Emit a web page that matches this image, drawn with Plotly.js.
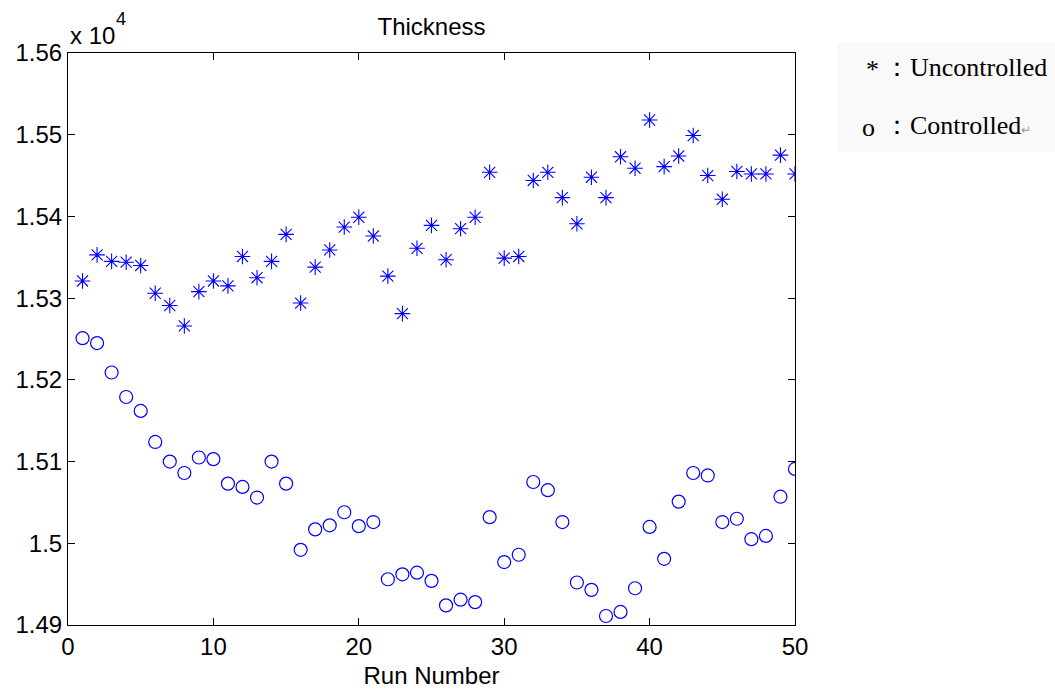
<!DOCTYPE html>
<html>
<head>
<meta charset="utf-8">
<script src="https://cdn.plot.ly/plotly-3.0.1.min.js"></script>
<style>
html,body{margin:0;padding:0;background:#fff;}
#chart{width:1055px;height:693px;}
</style>
</head>
<body>
<div id="chart"></div>
<script>
// Run numbers
const runNumber = [1,2,3,4,5,6,7,8,9,10,11,12,13,14,15,16,17,18,19,20,21,22,23,24,25,
                   26,27,28,29,30,31,32,33,34,35,36,37,38,39,40,41,42,43,44,45,46,47,48,49,50];
// Thickness, uncontrolled (*)
const uncontrolled = [15321,15353,15345,15344,15340,15306,15291,15266,15308,15321,
                      15315,15351,15325,15345,15378,15294,15338,15359,15387,15399,
                      15376,15327,15281,15361,15389,15347,15385,15399,15454,15349,
                      15351,15444,15454,15423,15391,15448,15423,15473,15459,15518,
                      15461,15474,15499,15450,15421,15455,15452,15452,15475,15452];
// Thickness, controlled (o)
const controlled = [15251,15245,15209,15179,15162,15124,15100,15086,15105,15103,
                    15073,15069,15056,15100,15073,14992,15017,15022,15038,15021,
                    15026,14956,14962,14964,14954,14924,14931,14928,15032,14977,
                    14986,15075,15065,15026,14952,14943,14911,14916,14945,15020,
                    14981,15051,15086,15083,15026,15030,15005,15009,15057,15091];
// Axis ticks
const xTicks = [0,10,20,30,40,50];
const yTickVals = [14900,15000,15100,15200,15300,15400,15500,15600];
const yTickText = ['1.49','1.5','1.51','1.52','1.53','1.54','1.55','1.56'];

const blue = '#0000FF';
const traces = [
  {x: runNumber, y: uncontrolled, mode:'markers', type:'scatter', name:'Uncontrolled',
   marker:{symbol:'asterisk-open', size:13, color:blue, line:{color:blue, width:1.1}}},
  {x: runNumber, y: controlled, mode:'markers', type:'scatter', name:'Controlled',
   marker:{symbol:'circle-open', size:13, color:blue, line:{color:blue, width:1.2}}}
];

const axFont = {family:'Liberation Sans, Arial, sans-serif', size:24, color:'#000'};
const serif = {family:'Liberation Serif, Times New Roman, serif', size:26, color:'#000'};

const layout = {
  width:1055, height:693,
  margin:{l:68, r:260, t:53, b:68, pad:0},
  paper_bgcolor:'#fff', plot_bgcolor:'#fff',
  showlegend:false,
  title:{text:'Thickness', font:{family:'Liberation Sans, Arial, sans-serif', size:24, color:'#000'},
         x:0.5, xref:'paper', xanchor:'center', y:1-27/693, yref:'container', yanchor:'middle'},
  xaxis:{range:[0,50], tickvals:xTicks, ticktext:xTicks.map(String), ticks:'inside', ticklen:7,
         tickcolor:'#000', showline:true, linecolor:'#000', linewidth:1, mirror:'ticks',
         showgrid:false, zeroline:false, tickfont:axFont,
         title:{text:'Run Number', font:axFont, standoff:8}},
  yaxis:{range:[14900,15600], tickvals:yTickVals, ticktext:yTickText, ticks:'inside', ticklen:7,
         tickcolor:'#000', showline:true, linecolor:'#000', linewidth:1, mirror:'ticks',
         showgrid:false, zeroline:false, tickfont:axFont},
  shapes:[
    {type:'rect', xref:'paper', yref:'paper', x0:(837-68)/727, x1:(1055-68)/727,
     y0:(625-152)/572, y1:(625-43)/572, fillcolor:'#f9f9f9', line:{width:0}, layer:'below'}
  ],
  annotations:[
    {text:'x 10', xref:'paper', yref:'paper', x:0, y:1, xanchor:'left', yanchor:'bottom',
     yshift:2, showarrow:false, font:axFont},
    {text:'4', xref:'paper', yref:'paper', x:(114-68)/727, y:1, xanchor:'left', yanchor:'bottom',
     yshift:22, showarrow:false, font:{family:'Liberation Sans, Arial, sans-serif', size:18, color:'#000'}},
    {text:'*', xref:'paper', yref:'paper', x:(864-68)/727, y:(625-70)/572, xanchor:'left', yanchor:'middle',
     showarrow:false, font:serif},
    {text:'：Uncontrolled', xref:'paper', yref:'paper', x:(882-68)/727, y:(625-67)/572, xanchor:'left', yanchor:'middle',
     showarrow:false, font:serif},
    {text:'o', xref:'paper', yref:'paper', x:(860-68)/727, y:(625-127)/572, xanchor:'left', yanchor:'middle',
     showarrow:false, font:serif},
    {text:'：Controlled<span style="font-size:12px;fill:#999">↵</span>', xref:'paper', yref:'paper', x:(882-68)/727, y:(625-126)/572, xanchor:'left', yanchor:'middle',
     showarrow:false, font:serif}
  ]
};

Plotly.newPlot('chart', traces, layout, {staticPlot:true, displayModeBar:false});
</script>
</body>
</html>
